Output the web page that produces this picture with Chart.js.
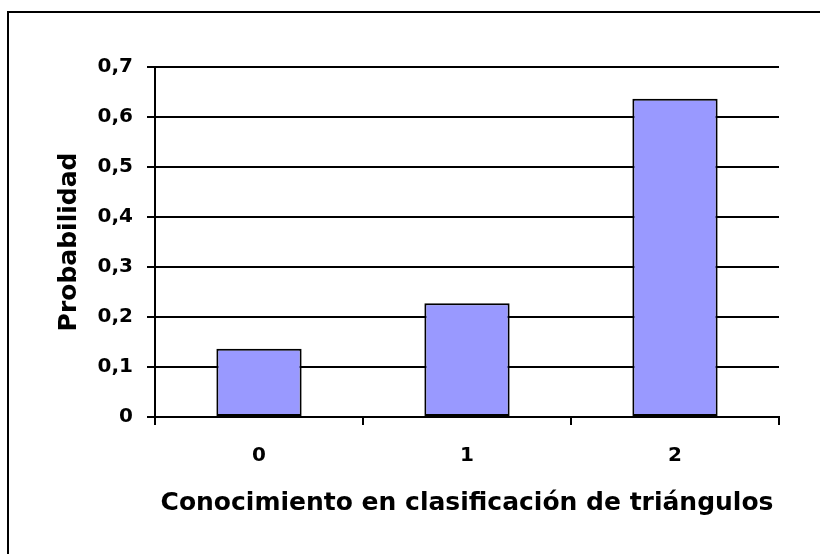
<!DOCTYPE html>
<html>
<head>
<meta charset="utf-8">
<script src="https://cdn.jsdelivr.net/npm/chart.js@4"></script>
<style>
  body { margin: 0; background: #fff; }
  canvas { display: block; }
</style>
</head>
<body>
<canvas id="chart" width="820" height="554"></canvas>
<script>
// Chart data
const categories = ['0', '1', '2'];
const probabilities = [0.1364, 0.2273, 0.6364];
const yTickLabels = ['0', '0,1', '0,2', '0,3', '0,4', '0,5', '0,6', '0,7'];
const xTitle = 'Conocimiento en clasificación de triángulos';
const yTitle = 'Probabilidad';

Chart.defaults.font.family = '"DejaVu Sans", sans-serif';
Chart.defaults.font.weight = 'bold';
Chart.defaults.color = '#000';

// White background plus the outer frame (only left and top edges are visible)
const framePlugin = {
    id: 'frame',
    beforeDraw(chart) {
        const ctx = chart.ctx;
        ctx.save();
        ctx.fillStyle = '#fff';
        ctx.fillRect(0, 0, chart.width, chart.height);
        ctx.strokeStyle = '#000';
        ctx.lineWidth = 2;
        ctx.strokeRect(8, 12, 1000, 1000);
        ctx.restore();
    }
};

const ctx = document.getElementById('chart').getContext('2d');
new Chart(ctx, {
    type: 'bar',
    data: {
        labels: categories,
        datasets: [{
            data: probabilities,
            backgroundColor: '#9999FF',
            borderColor: '#000',
            borderWidth: 2,
            borderSkipped: false,
            categoryPercentage: 1,
            barPercentage: 0.41
        }]
    },
    options: {
        responsive: false,
        animation: false,
        layout: {
            padding: { left: 0, top: 67, right: 41, bottom: 0 }
        },
        plugins: {
            legend: { display: false },
            tooltip: { enabled: false }
        },
        scales: {
            x: {
                afterFit(scale) { scale.height = 137; },
                grid: {
                    offset: true,
                    drawOnChartArea: false,
                    drawTicks: true,
                    tickLength: 8,
                    color: '#000',
                    lineWidth: 2
                },
                border: { display: true, color: '#000', width: 2 },
                ticks: {
                    font: { size: 20, weight: 'bold' },
                    padding: 19,
                    maxRotation: 0
                },
                title: {
                    display: true,
                    text: xTitle,
                    font: { size: 25, weight: 'bold' },
                    padding: { top: 0, bottom: 36 }
                }
            },
            y: {
                min: 0,
                max: 0.7,
                afterFit(scale) { scale.width = 155; },
                ticks: {
                    stepSize: 0.1,
                    font: { size: 20, weight: 'bold' },
                    padding: 14,
                    callback: (value, index) => yTickLabels[index]
                },
                grid: {
                    color: '#000',
                    lineWidth: 2,
                    drawTicks: true,
                    tickLength: 8
                },
                border: { display: true, color: '#000', width: 2 },
                title: {
                    display: true,
                    text: yTitle,
                    font: { size: 25, weight: 'bold' },
                    padding: { top: 54, bottom: 0 }
                }
            }
        }
    },
    plugins: [framePlugin]
});
</script>
</body>
</html>
